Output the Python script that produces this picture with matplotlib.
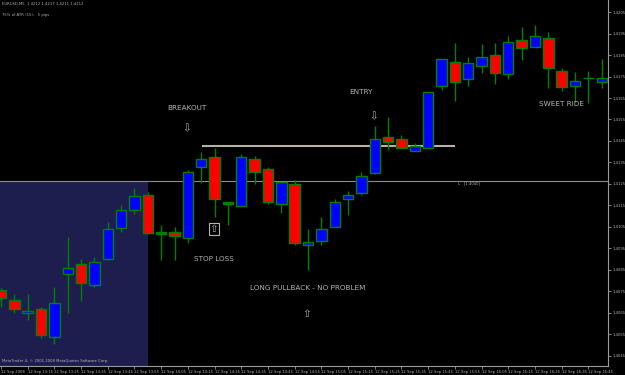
import matplotlib
matplotlib.use("Agg")
import matplotlib.pyplot as plt
from matplotlib.patches import Rectangle

# ---- data (EURUSD M5, 12 Sep 2008) ----
opens  = [1.40757, 1.40710, 1.40650, 1.40669, 1.40538, 1.40831, 1.40878, 1.40780, 1.40901, 1.41045,
          1.41129, 1.41199, 1.41027, 1.41027, 1.40999, 1.41329, 1.41376, 1.41166, 1.41148, 1.41366,
          1.41320, 1.41157, 1.41250, 1.40966, 1.40985, 1.41050, 1.41180, 1.41208, 1.41301, 1.41469,
          1.41459, 1.41403, 1.41417, 1.41706, 1.41817, 1.41738, 1.41799, 1.41850, 1.41762, 1.41920,
          1.41887, 1.41929, 1.41776, 1.41706, 1.41743, 1.41724]
highs  = [1.40766, 1.40738, 1.40738, 1.40678, 1.40771, 1.41004, 1.40901, 1.40910, 1.41073, 1.41152,
          1.41231, 1.41213, 1.41059, 1.41050, 1.41315, 1.41399, 1.41417, 1.41166, 1.41390, 1.41380,
          1.41329, 1.41259, 1.41269, 1.41041, 1.41097, 1.41180, 1.41217, 1.41306, 1.41520, 1.41562,
          1.41478, 1.41441, 1.41678, 1.41831, 1.41906, 1.41841, 1.41901, 1.41906, 1.41938, 1.41980,
          1.41990, 1.41957, 1.41790, 1.41771, 1.41776, 1.41831]
lows   = [1.40678, 1.40650, 1.40617, 1.40534, 1.40506, 1.40650, 1.40706, 1.40771, 1.40897, 1.41027,
          1.41110, 1.41017, 1.40897, 1.40897, 1.40976, 1.41255, 1.41097, 1.41059, 1.41148, 1.41250,
          1.41157, 1.41115, 1.40966, 1.40850, 1.40966, 1.41050, 1.41106, 1.41199, 1.41297, 1.41408,
          1.41417, 1.41403, 1.41417, 1.41687, 1.41636, 1.41706, 1.41766, 1.41715, 1.41738, 1.41827,
          1.41887, 1.41697, 1.41683, 1.41631, 1.41627, 1.41697]
closes = [1.40720, 1.40669, 1.40659, 1.40548, 1.40697, 1.40859, 1.40790, 1.40887, 1.41041, 1.41129,
          1.41194, 1.41022, 1.41017, 1.41008, 1.41306, 1.41366, 1.41180, 1.41157, 1.41376, 1.41306,
          1.41166, 1.41259, 1.40976, 1.40980, 1.41041, 1.41166, 1.41199, 1.41287, 1.41459, 1.41445,
          1.41417, 1.41427, 1.41678, 1.41831, 1.41724, 1.41813, 1.41841, 1.41766, 1.41910, 1.41883,
          1.41938, 1.41790, 1.41701, 1.41729, 1.41743, 1.41743]

time_labels = ["12 Sep 2008"] + ["12 Sep %d:%02d" % divmod(13 * 60 + 5 + 5 * i, 60) for i in range(2, 46, 2)]
ytick_values = [1.4045 + 0.001 * k for k in range(17)]

resistance_level = 1.41428
current_line = 1.41266

BG = "black"
BULL = "#0000ff"
BEAR = "#ff0000"
EDGE = "#008000"
TXT = "#b4b4b4"
SMALL = 2.7

fig = plt.figure(figsize=(6.25, 3.75), dpi=100, facecolor=BG)
ax = fig.add_axes([0, 9 / 375, 608 / 625, 366 / 375], facecolor=BG)
ax.set_xlim(-0.075, 45.47)
ax.set_ylim(1.40403, 1.42106)

# shaded zone
ax.add_patch(Rectangle((-1, 1.40), 12, current_line - 1.40, facecolor="#1e1e4e",
                       edgecolor="none", zorder=0))
ax.axhline(current_line, color="#8c8c8c", lw=0.8, zorder=1)
ax.hlines(resistance_level, 15.06, 34.0, color="#b9b0a4", lw=1.5, zorder=1)

w = 0.78
for i, (o, h, l, c) in enumerate(zip(opens, highs, lows, closes)):
    ax.vlines(i, l, h, color=EDGE, lw=1.0, zorder=2)
    if o == c:
        ax.hlines(o, i - w / 2, i + w / 2, color=EDGE, lw=1.0, zorder=3)
        continue
    col = BULL if c > o else BEAR
    ax.add_patch(Rectangle((i - w / 2, min(o, c)), w, abs(c - o), facecolor=col,
                           edgecolor=EDGE, lw=1.0, zorder=3))

# annotations
fs = 5.2
afs = 7.5
ax.text(13.93, 1.41604, "BREAKOUT", color=TXT, fontsize=fs, ha="center", va="center")
ax.text(13.93, 1.41510, "⇩", color=TXT, fontsize=afs, ha="center", va="center")
ax.text(15.96, 1.40901, "STOP LOSS", color=TXT, fontsize=fs, ha="center", va="center")
ax.text(15.96, 1.41041, "⇧", color=TXT, fontsize=afs, ha="center", va="center",
        bbox=dict(facecolor="none", edgecolor=TXT, lw=0.8, pad=0.6))
ax.text(26.97, 1.41678, "ENTRY", color=TXT, fontsize=fs, ha="center", va="center")
ax.text(27.94, 1.41566, "⇩", color=TXT, fontsize=afs, ha="center", va="center")
ax.text(23.0, 1.40766, "LONG PULLBACK - NO PROBLEM", color=TXT, fontsize=fs, ha="center", va="center")
ax.text(22.92, 1.40645, "⇧", color=TXT, fontsize=afs, ha="center", va="center")
ax.text(41.95, 1.41622, "SWEET RIDE", color=TXT, fontsize=fs, ha="center", va="center")
ax.text(34.2, 1.41252, "L   [1.4040]", color=TXT, fontsize=SMALL, ha="left", va="center")

ax.text(0.004, 0.988, "EURUSD,M5  1.4212 1.4217 1.4211 1.4212", transform=ax.transAxes,
        color=TXT, fontsize=SMALL, ha="left", va="center")
ax.text(0.004, 0.960, "75% of ATR (15):   5 pips", transform=ax.transAxes,
        color=TXT, fontsize=SMALL, ha="left", va="center")
ax.text(0.004, 0.008, "MetaTrader 4, © 2001-2008 MetaQuotes Software Corp.", transform=ax.transAxes,
        color=TXT, fontsize=SMALL, ha="left", va="bottom")

# axes styling
for s in ["left", "top"]:
    ax.spines[s].set_visible(False)
for s in ["right", "bottom"]:
    ax.spines[s].set_color("#9a9a9a")
    ax.spines[s].set_linewidth(0.8)

ax.yaxis.tick_right()
ax.set_yticks(ytick_values)
ax.set_yticklabels(["%.4f" % v for v in ytick_values])
ax.tick_params(axis="y", colors="#9a9a9a", labelcolor=TXT, labelsize=SMALL, length=2, width=0.6, pad=1.0)

ax.set_xticks(list(range(0, 46, 2)))
ax.set_xticklabels(time_labels, ha="left")
ax.tick_params(axis="x", colors="#9a9a9a", labelcolor=TXT, labelsize=SMALL, length=2, width=0.6, pad=0.8)

fig.savefig("out.png", dpi=100, facecolor=BG)
